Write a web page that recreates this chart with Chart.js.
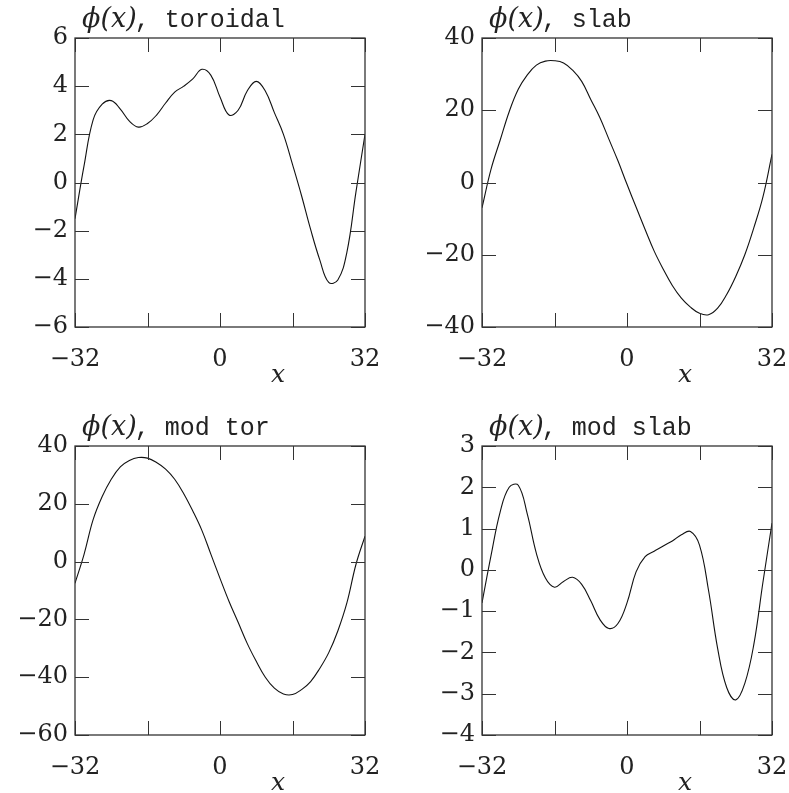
<!DOCTYPE html>
<html>
<head>
<meta charset="utf-8">
<script src="https://cdn.jsdelivr.net/npm/chart.js@4.4.1/dist/chart.umd.min.js"></script>
<style>
  html, body { margin: 0; padding: 0; background: #fff; }
  body { width: 789px; height: 793px; position: relative; overflow: hidden; }
  canvas { position: absolute; }
</style>
</head>
<body>
<canvas id="c0" width="400" height="400" style="left:0;top:0"></canvas>
<canvas id="c1" width="430" height="400" style="left:400px;top:0"></canvas>
<canvas id="c2" width="400" height="393" style="left:0;top:400px"></canvas>
<canvas id="c3" width="430" height="393" style="left:400px;top:400px"></canvas>
<script>
// x grid shared by all four panels
const xs = [-32, -30, -28, -26, -24, -22, -20, -18, -16, -14, -12, -10, -8, -6, -4, -2,
  0, 2, 4, 6, 8, 10, 12, 14, 16, 18, 20, 22, 24, 26, 28, 30, 32]

const toroidal = [-1.5, 0.7, 2.6, 3.25, 3.4, 3.05, 2.55, 2.3, 2.45, 2.8, 3.3, 3.75, 4.0, 4.3, 4.7, 4.45,
  3.55, 2.8, 3.0, 3.8, 4.2, 3.8, 2.9, 2.0, 0.75, -0.55, -1.95, -3.2, -4.15, -4.05, -2.9, -0.4, 2.0]

const slab = [-7, 3.7, 11.7, 19.6, 25.8, 29.8, 32.5, 33.6, 33.7, 33.1, 31.1, 28, 23, 18, 12, 6,
  -0.5, -6.8, -13, -19, -24, -28.5, -32, -34.5, -36.2, -36.6, -34.8, -31, -26, -20, -12.5, -4, 7.8]

const modTor = [-7.5, 2.5, 14.5, 22.5, 28.5, 32.8, 35, 36, 35.8, 34.3, 32, 28.5, 23.5, 17.5, 10.8, 2.5,
  -5.8, -13.8, -21, -28.3, -34.5, -40, -43.8, -45.8, -46, -44.3, -41.5, -37, -31.5, -24, -14.3, -1, 8.8]

const modSlab = [-0.8, 0.35, 1.4, 2.0, 2.05, 1.35, 0.4, -0.2, -0.42, -0.28, -0.18, -0.35, -0.75, -1.2, -1.42, -1.3,
  -0.8, -0.05, 0.32, 0.45, 0.58, 0.7, 0.85, 0.93, 0.6, -0.5, -1.9, -2.85, -3.15, -2.75, -1.8, -0.3, 1.13]

const titles = ['toroidal', 'slab', 'mod tor', 'mod slab']
const series = [toroidal, slab, modTor, modSlab]
const yMin = [-6, -40, -60, -4]
const yMax = [6, 40, 40, 3]
const yStep = [2, 20, 20, 1]
const xTicks = [-32, -16, 0, 16, 32]
const xLabelled = [-32, 0, 32]

// chart area inside each canvas: left, top, right, bottom
const boxes = [
  [75, 38, 365, 327],
  [82, 38, 372, 327],
  [75, 46, 365, 335],
  [82, 46, 372, 335]
]

function fmt(v) {
  return v < 0 ? '\u2212' + Math.abs(v) : String(v)
}

const framePlugin = {
  id: 'frame',
  afterDraw(chart, args, opts) {
    const {ctx, chartArea: a, scales} = chart
    ctx.save()
    ctx.strokeStyle = '#333'
    ctx.lineWidth = 1.3
    ctx.strokeRect(a.left, a.top, a.right - a.left, a.bottom - a.top)
    ctx.lineWidth = 1
    const tl = 14
    ctx.beginPath()
    scales.x.ticks.forEach(t => {
      const px = Math.round(scales.x.getPixelForValue(t.value)) + 0.5
      ctx.moveTo(px, a.bottom); ctx.lineTo(px, a.bottom - tl)
      ctx.moveTo(px, a.top); ctx.lineTo(px, a.top + tl)
    })
    scales.y.ticks.forEach(t => {
      const py = Math.round(scales.y.getPixelForValue(t.value)) + 0.5
      ctx.moveTo(a.left, py); ctx.lineTo(a.left + tl, py)
      ctx.moveTo(a.right, py); ctx.lineTo(a.right - tl, py)
    })
    ctx.stroke()

    // panel title: italic phi(x) then typewriter text
    ctx.fillStyle = '#222'
    ctx.textBaseline = 'alphabetic'
    ctx.textAlign = 'left'
    ctx.font = 'italic 27px "DejaVu Serif"'
    const head = '\u03d5(x)'
    ctx.fillText(head, a.left + 7, a.top - 11)
    const w = ctx.measureText(head).width
    ctx.font = '25px "Liberation Mono"'
    ctx.fillText(', ' + opts.title, a.left + 5 + w, a.top - 11)

    // x axis label
    ctx.font = 'italic 25px "DejaVu Serif"'
    ctx.textAlign = 'center'
    ctx.fillText('x', a.left + 203, a.bottom + 55)
    ctx.restore()
  }
}

series.forEach((ys, i) => {
  const [L, T, R, B] = boxes[i]
  const cv = document.getElementById('c' + i)
  new Chart(cv, {
    type: 'line',
    data: {
      datasets: [{
        data: xs.map((x, k) => ({x: x, y: ys[k]})),
        borderColor: '#111',
        borderWidth: 1.1,
        pointRadius: 0,
        tension: 0.4,
        fill: false
      }]
    },
    options: {
      responsive: false,
      animation: false,
      layout: {padding: {left: 0, top: T, right: cv.width - R, bottom: 0}},
      plugins: {
        legend: {display: false},
        tooltip: {enabled: false},
        frame: {title: titles[i]}
      },
      scales: {
        x: {
          type: 'linear',
          min: -32,
          max: 32,
          afterFit: s => { s.height = cv.height - B },
          afterBuildTicks: s => { s.ticks = xTicks.map(v => ({value: v})) },
          grid: {display: false, drawTicks: false},
          border: {display: false},
          ticks: {
            autoSkip: false,
            maxRotation: 0,
            padding: 18,
            color: '#222',
            font: {family: 'DejaVu Serif', size: 24},
            callback: v => xLabelled.includes(v) ? fmt(v) : ''
          }
        },
        y: {
          min: yMin[i],
          max: yMax[i],
          afterFit: s => { s.width = L },
          grid: {display: false, drawTicks: false},
          border: {display: false},
          ticks: {
            stepSize: yStep[i],
            autoSkip: false,
            padding: 7,
            color: '#222',
            font: {family: 'DejaVu Serif', size: 24},
            callback: v => fmt(v)
          }
        }
      }
    },
    plugins: [framePlugin]
  })
})
</script>
</body>
</html>
